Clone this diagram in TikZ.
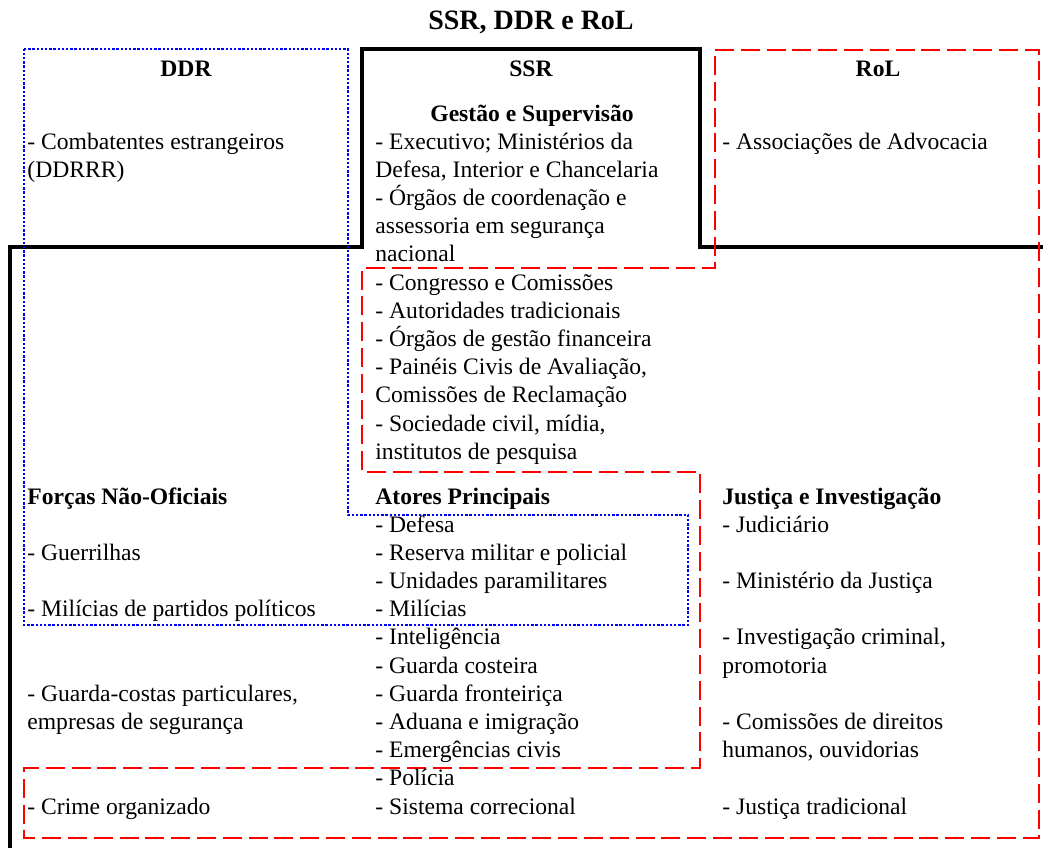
\documentclass[tikz,border=0pt]{standalone}
\usepackage{fontspec}
\setmainfont{Liberation Serif}
\begin{document}
\begin{tikzpicture}[x=0.5pt,y=-0.5pt,
  txt/.style={anchor=base west,inner sep=0pt,font=\fontsize{11.8}{14}\selectfont},
  hd/.style={anchor=base west,inner sep=0pt,font=\fontsize{11.8}{14}\selectfont\bfseries},
  hdc/.style={anchor=base,inner sep=0pt,font=\fontsize{11.8}{14}\selectfont\bfseries},
  ssrline/.style={draw=black,line width=1.8pt,line join=miter},
  ddrline/.style={draw=blue,line width=1.3pt,dash pattern=on 1.2pt off 0.9pt},
  rolline/.style={draw=red,line width=1.3pt,dash pattern=on 9.5pt off 3.4pt}]
\useasboundingbox (0,0) rectangle (1043,848);
% boundaries
\draw[ssrline] (10,848) -- (10,247) -- (362,247) -- (362,49) -- (700,49) -- (700,247) -- (1043,247);
\draw[ddrline] (24,49) -- (348,49) -- (348,515) -- (688,515) -- (688,625) -- (24,625) -- cycle;
\draw[rolline] (715,50) -- (1039,50) -- (1039,838) -- (24,838) -- (24,768) -- (700,768) -- (700,472) -- (362,472) -- (362,268) -- (715,268) -- cycle;
% title
\node[anchor=base,inner sep=0pt,font=\fontsize{14}{16}\selectfont\bfseries] (title) at (531,29) {SSR, DDR e RoL};
% column headings
\node[hdc] (hddr) at (186,76) {DDR};
\node[hdc] (hssr) at (531,76) {SSR};
\node[hdc] (hrol) at (878,76) {RoL};
\node[hdc] (hgest) at (532,121) {Gestão e Supervisão};
% left column
\node[txt] (l1) at (27,149) {- Combatentes estrangeiros};
\node[txt] (l2) at (27,177.2) {(DDRRR)};
\node[hd] (l3) at (27,504) {Forças Não-Oficiais};
\node[txt] (l4) at (27,560.4) {- Guerrilhas};
\node[txt] (l5) at (27,616.8) {- Milícias de partidos políticos};
\node[txt] (l6) at (27,701.4) {- Guarda-costas particulares,};
\node[txt] (l7) at (27,729.6) {empresas de segurança};
\node[txt] (l8) at (27,814) {- Crime organizado};
% middle column
\node[txt] (m1) at (375,149) {- Executivo; Ministérios da};
\node[txt] (m2) at (375,177.2) {Defesa, Interior e Chancelaria};
\node[txt] (m3) at (375,205.4) {- Órgãos de coordenação e};
\node[txt] (m4) at (375,233.6) {assessoria em segurança};
\node[txt] (m5) at (375,261.8) {nacional};
\node[txt] (m6) at (375,290) {- Congresso e Comissões};
\node[txt] (m7) at (375,318.2) {- Autoridades tradicionais};
\node[txt] (m8) at (375,346.4) {- Órgãos de gestão financeira};
\node[txt] (m9) at (375,374.6) {- Painéis Civis de Avaliação,};
\node[txt] (m10) at (375,402.8) {Comissões de Reclamação};
\node[txt] (m11) at (375,431) {- Sociedade civil, mídia,};
\node[txt] (m12) at (375,459.2) {institutos de pesquisa};
\node[hd] (m13) at (375,504) {Atores Principais};
\node[txt] (m14) at (375,532) {- Defesa};
\node[txt] (m15) at (375,560.2) {- Reserva militar e policial};
\node[txt] (m16) at (375,588.4) {- Unidades paramilitares};
\node[txt] (m17) at (375,616.6) {- Milícias};
\node[txt] (m18) at (375,644.8) {- Inteligência};
\node[txt] (m19) at (375,673) {- Guarda costeira};
\node[txt] (m20) at (375,701.2) {- Guarda fronteiriça};
\node[txt] (m21) at (375,729.4) {- Aduana e imigração};
\node[txt] (m22) at (375,757.6) {- Emergências civis};
\node[txt] (m23) at (375,785.8) {- Polícia};
\node[txt] (m24) at (375,814) {- Sistema correcional};
% right column
\node[txt] (r1) at (722,149) {- Associações de Advocacia};
\node[hd] (r2) at (722,504) {Justiça e Investigação};
\node[txt] (r3) at (722,532) {- Judiciário};
\node[txt] (r4) at (722,588.4) {- Ministério da Justiça};
\node[txt] (r5) at (722,644.8) {- Investigação criminal,};
\node[txt] (r6) at (722,673) {promotoria};
\node[txt] (r7) at (722,729.4) {- Comissões de direitos};
\node[txt] (r8) at (722,757.6) {humanos, ouvidorias};
\node[txt] (r9) at (722,814) {- Justiça tradicional};
\end{tikzpicture}
\end{document}
